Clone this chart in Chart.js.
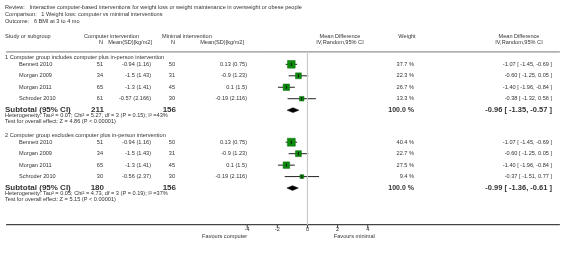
<!DOCTYPE html>
<html>
<head>
<meta charset="utf-8">
<script src="https://cdn.jsdelivr.net/npm/chart.js@4/dist/chart.umd.min.js"></script>
<style>
  body{margin:0;background:#fff;}
  canvas{display:block;}
</style>
</head>
<body>
<canvas id="c" width="566" height="269"></canvas>
<script>
// ===== DATA =====
const studies = ['Bennett 2010','Morgan 2009','Morgan 2011','Schroder 2010'];

const g1CompN    = [51, 34, 65, 61];
const g1CompMean = ['-0.94 (1.16)','-1.5 (1.43)','-1.3 (1.41)','-0.57 (2.166)'];
const g1MinN     = [50, 31, 45, 30];
const g1MinMean  = ['0.13 (0.75)','-0.9 (1.23)','0.1 (1.5)','-0.19 (2.116)'];
const g1Weight   = [37.7, 22.3, 26.7, 13.3];
const g1MD       = [-1.07, -0.60, -1.40, -0.38];
const g1Lo       = [-1.45, -1.25, -1.96, -1.32];
const g1Hi       = [-0.69, 0.05, -0.84, 0.56];
const g1Total    = {compN:211, minN:156, md:-0.96, lo:-1.35, hi:-0.57};
const g1Het      = 'Heterogeneity: Tau² = 0.07; Chi² = 5.27, df = 3 (P = 0.15); I² =43%';
const g1Test     = 'Test for overall effect: Z = 4.86 (P < 0.00001)';

const g2CompN    = [51, 34, 65, 30];
const g2CompMean = ['-0.94 (1.16)','-1.5 (1.43)','-1.3 (1.41)','-0.56 (2.37)'];
const g2MinN     = [50, 31, 45, 30];
const g2MinMean  = ['0.13 (0.75)','-0.9 (1.23)','0.1 (1.5)','-0.19 (2.116)'];
const g2Weight   = [40.4, 22.7, 27.5, 9.4];
const g2MD       = [-1.07, -0.60, -1.40, -0.37];
const g2Lo       = [-1.45, -1.25, -1.96, -1.51];
const g2Hi       = [-0.69, 0.05, -0.84, 0.77];
const g2Total    = {compN:180, minN:156, md:-0.99, lo:-1.36, hi:-0.61};
const g2Het      = 'Heterogeneity: Tau² = 0.05; Chi² = 4.73, df = 3 (P = 0.19); I² =37%';
const g2Test     = 'Test for overall effect: Z = 5.15 (P < 0.00001)';

const tickVals = [-4, -2, 0, 2, 4];

// ===== LAYOUT =====
const W = 566, H = 269;
const ZERO_PX = 308, UNIT_PX = 15.4;       // x: 0 position and px per unit
const ROW0_PX = 61, ROW_PX = 6.0;           // y: half-row grid
const row = px => (px - ROW0_PX) / ROW_PX;
const FONT = '"Liberation Sans", Arial, sans-serif';
const TXT = '#333';

const g1Label = -1.2, g1Rows = [0, 2, 4, 6], g1Sub = 8;
const g2Label = 12.4, g2Rows = [13.6, 15.6, 17.6, 19.6], g2Sub = 21.6;
const topRow = row(48), axisRow = row(229);

const fmt = v => v.toFixed(2);
const mdText = (m, l, h) => `${fmt(m)} [ ${fmt(l)}, ${fmt(h)} ]`;

// ===== DATASETS =====
const ds = [];
const seg = (pts, color, width) => ds.push({
  type:'line', data:pts, borderColor:color, borderWidth:width,
  pointRadius:0, fill:false, clip:false, order:5
});

seg([{x:0,y:topRow},{x:0,y:axisRow}], '#c8c8c8', 1);
seg([{x:-ZERO_PX/UNIT_PX,y:topRow},{x:(W-ZERO_PX)/UNIT_PX,y:topRow}], '#777', 1);
seg([{x:-ZERO_PX/UNIT_PX,y:axisRow},{x:(W-ZERO_PX)/UNIT_PX,y:axisRow}], '#444', 1.2);

ds.push({type:'scatter', data:tickVals.map(v=>({x:v,y:axisRow+0.3})),
  pointStyle:'line', rotation:90, radius:1.8, borderColor:'#444', borderWidth:1, clip:false, order:5});

function addGroup(rows, md, lo, hi, weight, sub, tot){
  ds.push({type:'scatter',
    data:rows.map((r,i)=>({x:md[i], y:r})),
    pointStyle:'rect',
    pointRadius:weight.map(w=>1.25*Math.sqrt(w)/1.414),
    backgroundColor:'#0c8c0c', borderColor:'#0a6a0a', borderWidth:0.5,
    clip:false, order:3});
  rows.forEach((r,i)=>seg([{x:lo[i],y:r},{x:hi[i],y:r}], '#222', 1));
  ds.push({type:'scatter', data:rows.map((r,i)=>({x:md[i], y:r})),
    pointStyle:'line', rotation:90, radius:1.6, borderColor:'#111', borderWidth:1, clip:false, order:1});
  ds.push({type:'line',
    data:[{x:tot.lo,y:sub},{x:tot.md,y:sub-0.42},{x:tot.hi,y:sub},{x:tot.md,y:sub+0.42},{x:tot.lo,y:sub}],
    borderColor:'#000', borderWidth:0.5, backgroundColor:'#000', fill:'shape',
    pointRadius:0, tension:0, clip:false, order:1});
}
addGroup(g1Rows, g1MD, g1Lo, g1Hi, g1Weight, g1Sub, g1Total);
addGroup(g2Rows, g2MD, g2Lo, g2Hi, g2Weight, g2Sub, g2Total);

// ===== TEXT =====
const textPlugin = {
  id:'forestText',
  afterDatasetsDraw(chart){
    const ctx = chart.ctx, ys = chart.scales.y, xs = chart.scales.x;
    const t = (s, x, y, align, size, bold) => {
      ctx.font = `${bold?'bold ':''}${size}px ${FONT}`;
      ctx.fillStyle = TXT; ctx.textAlign = align || 'left'; ctx.textBaseline = 'middle';
      ctx.fillText(s, x, y);
    };
    const R = r => ys.getPixelForValue(r);
    ctx.save();
    t('Review:   Interactive computer-based interventions for weight loss or weight maintenance in overweight or obese people', 5, 7, 'left', 5.6);
    t('Comparison:   1 Weight loss: computer vs minimal interventions', 5, 14, 'left', 5.6);
    t('Outcome:   6 BMI at 3 to 4 mo', 5, 21, 'left', 5.6);

    t('Study or subgroup', 5, 36, 'left', 5.6);
    t('Computer intervention', 84, 36, 'left', 5.6);
    t('Minimal intervention', 162, 36, 'left', 5.6);
    t('N', 103, 42.5, 'right', 5.6);
    t('Mean(SD)[kg/m2]', 152, 42.5, 'right', 5.6);
    t('N', 175, 42.5, 'right', 5.6);
    t('Mean(SD)[kg/m2]', 244, 42.5, 'right', 5.6);
    t('Mean Difference', 340, 36, 'center', 5.6);
    t('IV,Random,95% CI', 340, 42.5, 'center', 5.6);
    t('Weight', 407, 36, 'center', 5.6);
    t('Mean Difference', 519, 36, 'center', 5.6);
    t('IV,Random,95% CI', 519, 42.5, 'center', 5.6);

    const group = (label, labRow, rows, cN, cM, mN, mM, w, md, lo, hi, sub, tot, het, test) => {
      t(label, 5, R(labRow), 'left', 5.6);
      rows.forEach((r,i)=>{
        const y = R(r);
        t(studies[i], 19, y, 'left', 5.6);
        t(String(cN[i]), 103, y, 'right', 5.6);
        t(cM[i], 151, y, 'right', 5.6);
        t(String(mN[i]), 175, y, 'right', 5.6);
        t(mM[i], 247, y, 'right', 5.6);
        t(w[i].toFixed(1)+' %', 414, y, 'right', 5.6);
        t(mdText(md[i], lo[i], hi[i]), 552, y, 'right', 5.6);
      });
      const ys2 = R(sub);
      t('Subtotal (95% CI)', 5, ys2, 'left', 8, true);
      t(String(tot.compN), 104, ys2, 'right', 8, true);
      t(String(tot.minN), 176, ys2, 'right', 8, true);
      t('100.0 %', 414, ys2, 'right', 7, true);
      t(mdText(tot.md, tot.lo, tot.hi), 552, ys2, 'right', 7.5, true);
      t(het, 5, R(sub+1), 'left', 5.6);
      t(test, 5, R(sub+2), 'left', 5.6);
    };
    group('1 Computer group includes computer plus in-person intervention', g1Label, g1Rows,
      g1CompN, g1CompMean, g1MinN, g1MinMean, g1Weight, g1MD, g1Lo, g1Hi, g1Sub, g1Total, g1Het, g1Test);
    group('2 Computer group excludes computer plus in-person intervention', g2Label, g2Rows,
      g2CompN, g2CompMean, g2MinN, g2MinMean, g2Weight, g2MD, g2Lo, g2Hi, g2Sub, g2Total, g2Het, g2Test);

    const ya = R(axisRow);
    tickVals.forEach(v => t(String(v), xs.getPixelForValue(v), ya + 5, 'center', 5.6));
    t('Favours computer', xs.getPixelForValue(-4), ya + 12, 'right', 5.6);
    t('Favours minimal', xs.getPixelForValue(1.75), ya + 12, 'left', 5.6);
    ctx.restore();
  }
};

new Chart(document.getElementById('c'), {
  type:'scatter',
  data:{datasets:ds},
  options:{
    responsive:false, animation:false, devicePixelRatio:1,
    layout:{padding:0},
    plugins:{legend:{display:false}, tooltip:{enabled:false}},
    scales:{
      x:{type:'linear', display:false, min:-ZERO_PX/UNIT_PX, max:(W-ZERO_PX)/UNIT_PX},
      y:{type:'linear', display:false, reverse:true, min:row(0), max:row(H)}
    }
  },
  plugins:[textPlugin]
});
</script>
</body>
</html>
